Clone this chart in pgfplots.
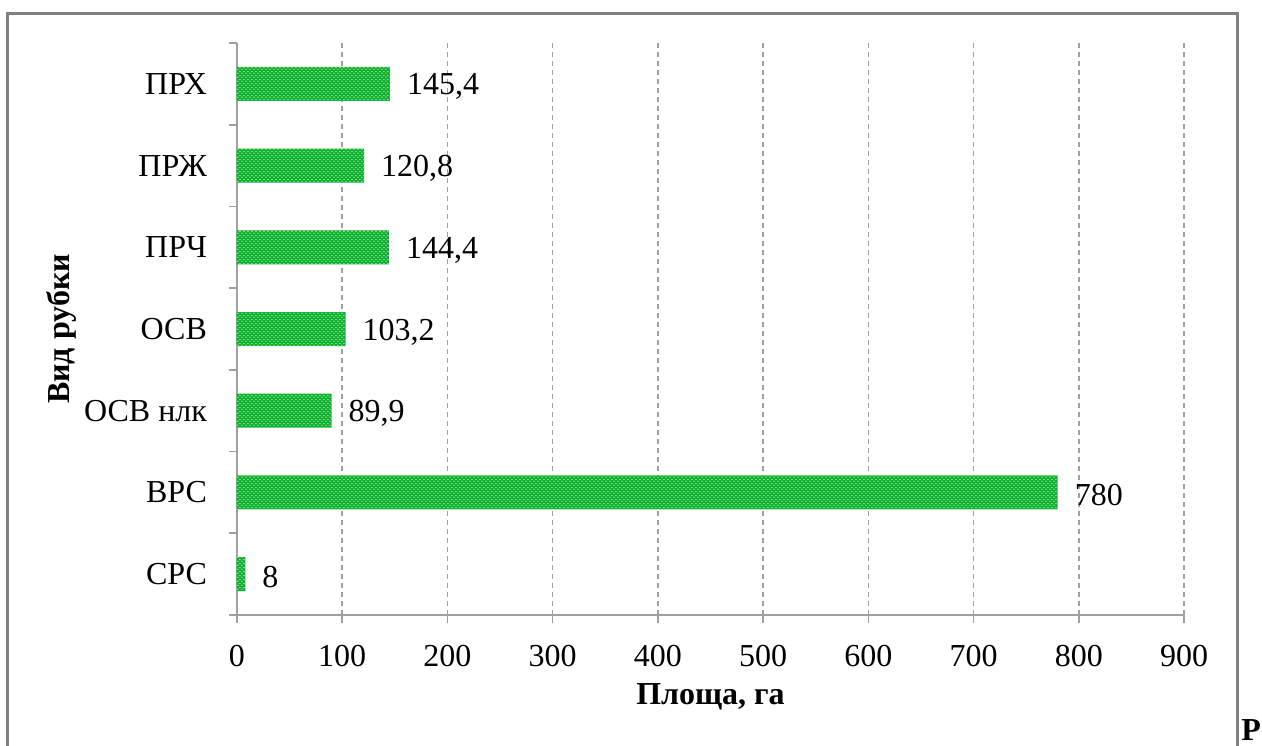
\documentclass[border=0pt]{standalone}
\usepackage{pgfplots}
\pgfplotsset{compat=1.18}
\usepackage{fontspec}
\setmainfont{Liberation Serif}
\usetikzlibrary{patterns.meta}

\definecolor{barGreen}{RGB}{0,176,80}
\definecolor{barDots}{RGB}{255,255,0}
\definecolor{frameGray}{RGB}{128,128,128}
\definecolor{axisGray}{RGB}{160,160,160}

% fine staggered dot texture laid over the green fill
\tikzdeclarepattern{
  name=fineDots,
  type=uncolored,
  bounding box={(0,0) and (2.2pt,2pt)},
  tile size={(2.2pt,2pt)},
  code={
    \fill (0.55pt,0.5pt) circle (0.42pt);
    \fill (1.65pt,1.5pt) circle (0.42pt);
  }
}

\newcommand{\chartfont}{\fontsize{16}{19}\selectfont}

\begin{document}
\begin{tikzpicture}
  \useasboundingbox (-118.5pt,-65pt) rectangle (512.5pt,307.5pt);
  \begin{scope}
    \clip (-118.5pt,-65pt) rectangle (512.5pt,307.5pt);
    \draw[frameGray, line width=1.5pt] (-114.5pt,-90pt) -- (-114.5pt,300.5pt) -- (500pt,300.5pt) -- (500pt,-90pt);
  \end{scope}

  \begin{axis}[
    at={(0,0)}, anchor=south west,
    scale only axis,
    width=473.5pt, height=286pt,
    xbar,
    bar width=17pt,
    xmin=0, xmax=900,
    ymin=-0.5, ymax=6.5,
    enlargelimits=false,
    axis x line*=bottom,
    axis y line*=left,
    axis line style={axisGray, line width=1pt},
    xtick={0,100,...,900},
    ytick={0,...,6},
    yticklabels={СРС, ВРС, ОСВ нлк, ОСВ, ПРЧ, ПРЖ, ПРХ},
    minor ytick={-0.5,0.5,...,6.5},
    tick align=outside,
    major tick length=4pt,
    minor tick length=4pt,
    tick style={axisGray, line width=0.8pt},
    major y tick style={draw=none},
    xmajorgrids,
    major x grid style={axisGray, line width=0.8pt, dash pattern=on 2.5pt off 2pt},
    /pgf/number format/assume math mode=true,
    /pgf/number format/use comma,
    /pgf/number format/1000 sep={},
    tick label style={font=\chartfont, black},
    xticklabel shift=7.5pt,
    yticklabel shift=7.5pt,
    xlabel={Площа, га},
    ylabel={Вид рубки},
    label style={font=\chartfont\bfseries},
    xlabel style={at={(axis description cs:0.5,0)}, anchor=center, yshift=-41pt},
    ylabel style={at={(axis description cs:0,0.5)}, anchor=center, yshift=87.5pt},
    nodes near coords,
    nodes near coords style={font=\chartfont, black, anchor=west, xshift=5pt, yshift=-1.5pt},
    clip=false,
  ]
    \addplot[draw=none, fill=barGreen,
             postaction={pattern=fineDots, pattern color=barDots}]
      coordinates {
        (8,0)
        (780,1)
        (89.9,2)
        (103.2,3)
        (144.4,4)
        (120.8,5)
        (145.4,6)
      };
  \end{axis}

  \node[font=\chartfont\bfseries, anchor=north west, inner sep=0pt] at (502pt,-52pt) {Р};
\end{tikzpicture}
\end{document}
